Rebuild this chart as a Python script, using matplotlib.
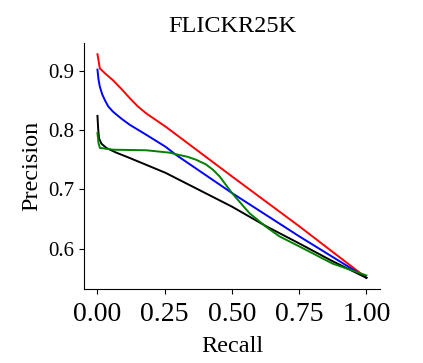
import numpy as np
import matplotlib.pyplot as plt

plt.rcParams['font.family'] = ['Liberation Serif', 'DejaVu Serif']

# precision-recall curves
red_recall = [0.0, 0.009, 0.03, 0.058, 0.09, 0.12, 0.15, 0.182, 0.256, 0.5, 0.75, 1.0]
red_prec = [0.928, 0.904, 0.895, 0.884, 0.869, 0.854, 0.840, 0.828, 0.805, 0.722, 0.638, 0.551]

blue_recall = [0.0, 0.004, 0.009, 0.018, 0.027, 0.04, 0.058, 0.09, 0.12, 0.182, 0.253, 0.293, 0.5, 0.75, 1.0]
blue_prec = [0.902, 0.885, 0.873, 0.860, 0.851, 0.840, 0.831, 0.819, 0.809, 0.792, 0.772, 0.758, 0.694, 0.621, 0.551]

black_recall = [0.0, 0.003, 0.006, 0.015, 0.033, 0.07, 0.12, 0.253, 0.5, 0.627, 0.75, 0.874, 1.0]
black_prec = [0.824, 0.800, 0.786, 0.777, 0.770, 0.762, 0.753, 0.728, 0.671, 0.638, 0.609, 0.579, 0.551]

green_recall = [0.0, 0.004, 0.009, 0.058, 0.182, 0.268, 0.305, 0.335, 0.367, 0.404, 0.43, 0.454, 0.5, 0.565, 0.627,
                0.676, 0.75, 0.874, 1.0]
green_prec = [0.795, 0.778, 0.770, 0.767, 0.766, 0.762, 0.758, 0.755, 0.750, 0.742, 0.733, 0.722, 0.694, 0.660, 0.637,
              0.621, 0.604, 0.575, 0.555]

xticks = [0.0, 0.25, 0.5, 0.75, 1.0]
yticks = [0.6, 0.7, 0.8, 0.9]

fig = plt.figure(figsize=(4.23, 3.63), dpi=100)
ax = fig.add_axes([0.1986, 0.2039, 0.6994, 0.6776])

ax.plot(red_recall, red_prec, color='red', lw=1.4)
ax.plot(blue_recall, blue_prec, color='blue', lw=1.4)
ax.plot(black_recall, black_prec, color='black', lw=1.4)
ax.plot(green_recall, green_prec, color='green', lw=1.4)

ax.spines['top'].set_visible(False)
ax.spines['right'].set_visible(False)
ax.set_xticks(xticks)
ax.set_xticklabels(['%.2f' % v for v in xticks], fontsize=20)
ax.set_yticks(yticks)
ax.set_yticklabels(['%.1f' % v for v in yticks], fontsize=15)
ax.tick_params(axis='x', pad=6)
ax.set_xlabel('Recall', fontsize=17.5, labelpad=6)
ax.set_ylabel('Precision', fontsize=17.5)
ax.set_title('FLICKR25K', fontsize=17.5, pad=8)

fig.savefig('out.png', dpi=100)
